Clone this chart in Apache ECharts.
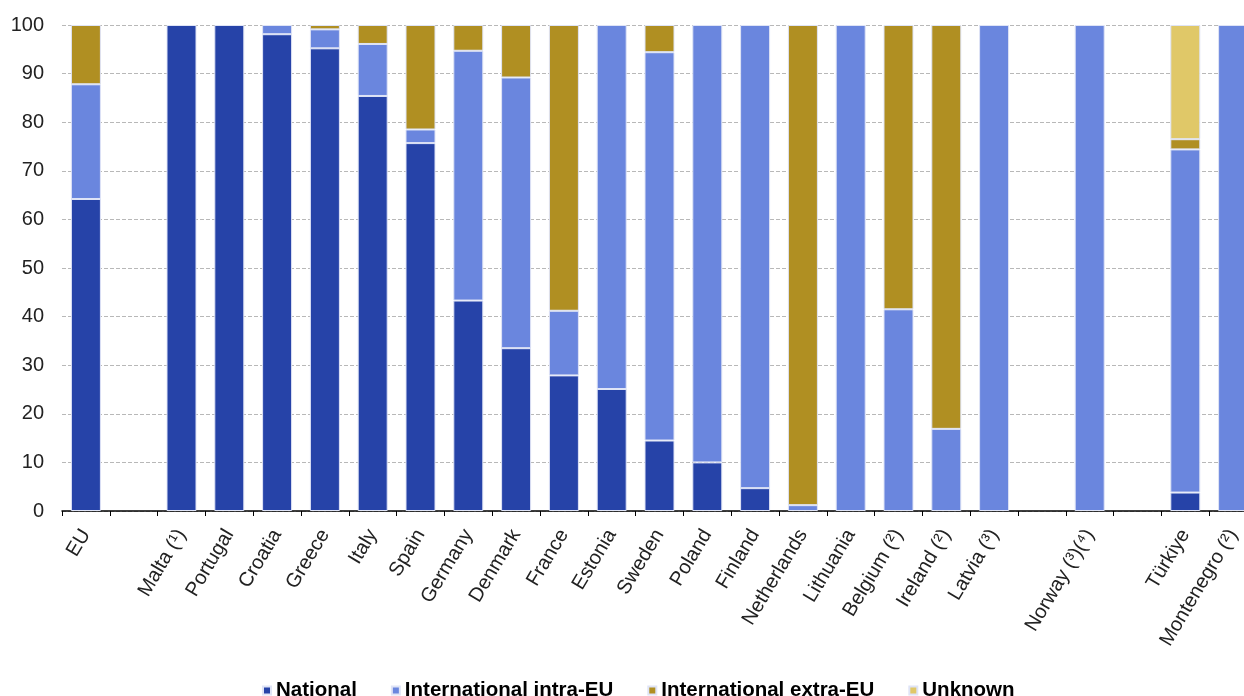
<!DOCTYPE html>
<html>
<head>
<meta charset="utf-8">
<script src="https://cdn.jsdelivr.net/npm/echarts@6/dist/echarts.min.js"></script>
<style>
html,body{margin:0;padding:0;background:#fff;overflow:hidden;width:1244px;height:696px;}
#chart{width:1257px;height:696px;}
</style>
</head>
<body>
<div id="chart"></div>
<script>
const categories = ['EU', ' ', 'Malta (¹)', 'Portugal', 'Croatia', 'Greece', 'Italy', 'Spain', 'Germany', 'Denmark', 'France', 'Estonia', 'Sweden', 'Poland', 'Finland', 'Netherlands', 'Lithuania', 'Belgium (²)', 'Ireland (²)', 'Latvia (³)', '  ', 'Norway (³)(⁴)', '   ', 'Türkiye', 'Montenegro (²)'];
const national = [64.2, null, 100, 100, 98.1, 95.2, 85.4, 75.7, 43.3, 33.5, 27.9, 25.1, 14.5, 10.0, 4.7, null, null, null, null, null, null, null, null, 3.8, null];
const intraEU = [23.6, null, null, null, 1.9, 3.9, 10.7, 2.8, 51.4, 55.7, 13.3, 74.9, 79.9, 90.0, 95.3, 1.2, 100, 41.5, 16.9, 100, null, 100, null, 70.6, 100];
const extraEU = [12.2, null, null, null, null, 0.9, 3.9, 21.5, 5.3, 10.8, 58.8, null, 5.6, null, null, 98.8, null, 58.5, 83.1, null, null, null, null, 2.1, null];
const unknown = [null, null, null, null, null, null, null, null, null, null, null, null, null, null, null, null, null, null, null, null, null, null, null, 23.5, null];
const seriesNames = ['National', 'International intra-EU', 'International extra-EU', 'Unknown'];
const yTicks = [0, 10, 20, 30, 40, 50, 60, 70, 80, 90, 100];

const colors = ['#2643a8', '#6a86de', '#b08f22', '#e0c868'];
const font = 'Arial, "Liberation Sans", sans-serif';

const chart = echarts.init(document.getElementById('chart'), null, {renderer: 'canvas'});
const dataSets = [national, intraEU, extraEU, unknown];
const series = seriesNames.map((n, i) => ({
  name: n,
  type: 'bar',
  stack: 'total',
  barWidth: 30,
  data: dataSets[i],
  itemStyle: {color: colors[i], borderColor: '#dfe4f6', borderWidth: 1},
  emphasis: {disabled: true}
}));

chart.setOption({
  animation: false,
  backgroundColor: '#fff',
  color: colors,
  grid: {left: 62, right: 0, top: 25, bottom: 185, containLabel: false},
  legend: {
    top: 680,
    left: 262,
    padding: 0,
    itemWidth: 8,
    itemHeight: 8,
    itemGap: 34,
    icon: 'rect',
    data: seriesNames,
    textStyle: {fontFamily: font, fontSize: 20.5, fontWeight: 'bold', color: '#000', padding: [0, 0, 0, 0]}
  },
  xAxis: {
    type: 'category',
    data: categories,
    boundaryGap: true,
    axisLine: {show: true, lineStyle: {color: '#000', width: 1.5}},
    axisTick: {show: true, alignWithLabel: false, length: 5, lineStyle: {color: '#000'}},
    axisLabel: {
      interval: 0,
      rotate: 59,
      margin: 20,
      fontFamily: font,
      fontSize: 20,
      color: '#222'
    }
  },
  yAxis: {
    type: 'value',
    min: 0,
    max: 100,
    interval: 10,
    axisLine: {show: false},
    axisTick: {show: false},
    axisLabel: {
      margin: 18,
      fontFamily: font,
      fontSize: 20,
      color: '#222',
      formatter: v => yTicks.includes(v) ? String(v) : ''
    },
    splitLine: {show: true, lineStyle: {color: '#b8b8b8', type: [4, 2], width: 1}}
  },
  series: series
});
</script>
</body>
</html>
